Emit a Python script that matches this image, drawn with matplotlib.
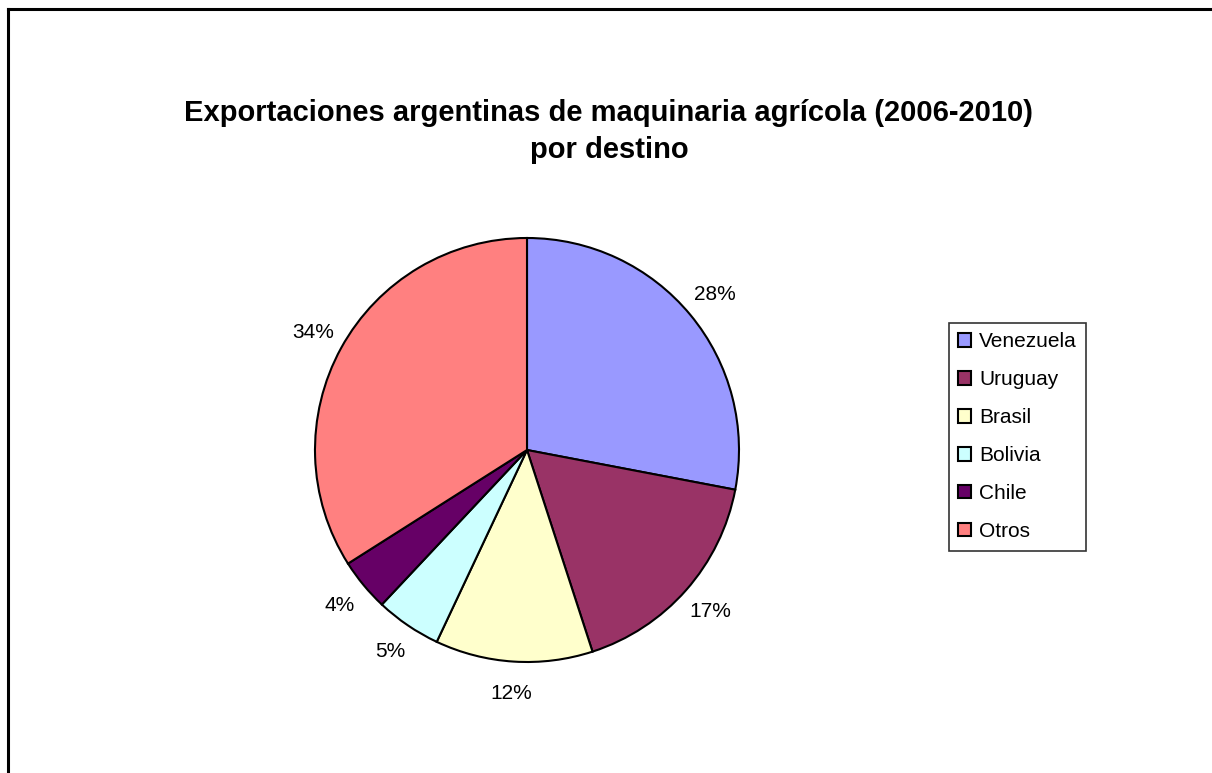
import matplotlib.pyplot as plt
from matplotlib.patches import Patch
from matplotlib.lines import Line2D

# Datos
destinos = ["Venezuela", "Uruguay", "Brasil", "Bolivia", "Chile", "Otros"]
porcentajes = [28, 17, 12, 5, 4, 34]
colores = ["#9999FF", "#993366", "#FFFFCC", "#CCFFFF", "#660066", "#FF8080"]

plt.rcParams['font.family'] = ['Liberation Sans', 'DejaVu Sans']

fig = plt.figure(figsize=(12.12, 7.73), dpi=100)
W, H = 1212, 773

# marco del grafico (solo se ven borde superior e izquierdo)
fig.add_artist(Line2D([7.5 / W, 7.5 / W], [0, 1 - 8.5 / H], color="black", lw=2.2, transform=fig.transFigure))
fig.add_artist(Line2D([7.5 / W, 1], [1 - 8.5 / H, 1 - 8.5 / H], color="black", lw=2.2, transform=fig.transFigure))

# torta
cx, cy, r = 527, 450, 212
ax = fig.add_axes([(cx - r) / W, (H - cy - r) / H, 2 * r / W, 2 * r / H])
wedges, textos, autotextos = ax.pie(
    porcentajes, colors=colores, startangle=90, counterclock=False,
    autopct="%d%%", pctdistance=1.15,
    wedgeprops=dict(edgecolor="black", linewidth=1.5),
    textprops=dict(fontsize=15, color="black"))
for t in autotextos:
    t.set_clip_on(False)
ax.set_xlim(-1, 1)
ax.set_ylim(-1, 1)
ax.set_aspect("equal")
ax.axis("off")

# titulo
fig.text(609 / W, 1 - 121 / H, "Exportaciones argentinas de maquinaria agrícola (2006-2010)",
         ha="center", va="baseline", fontsize=21, fontweight="bold")
fig.text(609 / W, 1 - 158 / H, "por destino",
         ha="center", va="baseline", fontsize=21, fontweight="bold")

# leyenda
handles = [Patch(facecolor=c, edgecolor="black", linewidth=1.5) for c in colores]
leg = fig.legend(handles, destinos, loc="upper left",
                 bbox_to_anchor=(949 / W, 1 - 323 / H), bbox_transform=fig.transFigure,
                 fontsize=15, frameon=True, fancybox=False, shadow=False,
                 handlelength=0.6, handleheight=0.6, handletextpad=0.4,
                 labelspacing=0.91, borderpad=0.45, borderaxespad=0)
leg.get_frame().set_edgecolor("black")
leg.get_frame().set_linewidth(1.2)

fig.savefig("out.png", dpi=100, facecolor="white")
